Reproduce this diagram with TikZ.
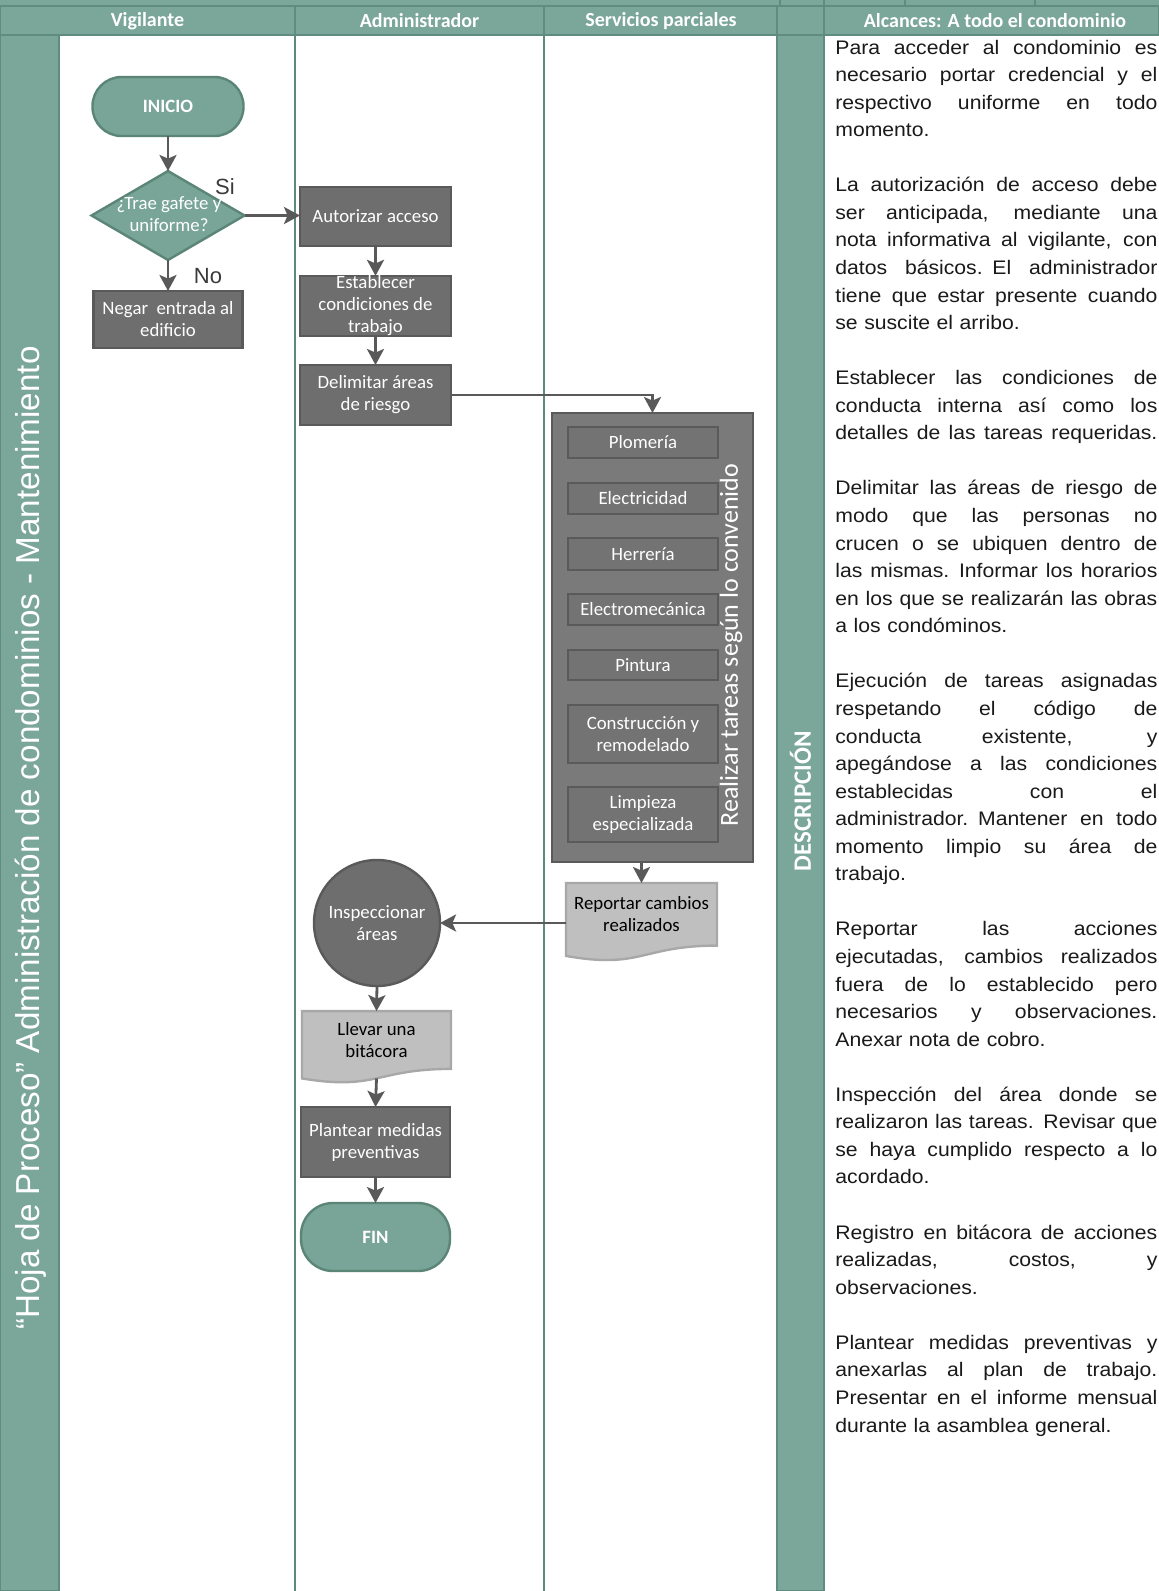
\documentclass[tikz,border=0pt]{standalone}
\usepackage{fontspec}
\setmainfont{Carlito}
\newfontfamily\arialfont{Liberation Sans}
\newfontfamily\descfont[FakeStretch=1.08]{Liberation Sans}
\usetikzlibrary{shapes.geometric,arrows.meta,calc}

\definecolor{band}{HTML}{7BA69A}
\definecolor{bandline}{HTML}{5F8C7F}
\definecolor{sepline}{HTML}{5E8A7D}
\definecolor{tealfill}{HTML}{78A597}
\definecolor{tealline}{HTML}{5A8577}
\definecolor{boxfill}{HTML}{6E6E6E}
\definecolor{boxline}{HTML}{5A5A5A}
\definecolor{contfill}{HTML}{7A7A7A}
\definecolor{subfill}{HTML}{737373}
\definecolor{docfill}{HTML}{BFBFBF}
\definecolor{docline}{HTML}{A8A8A8}
\definecolor{arrowc}{HTML}{595959}
\definecolor{labelc}{HTML}{3A3A3A}
\definecolor{desctext}{HTML}{1A1A1A}

\pgfdeclarelayer{back}
\pgfdeclarelayer{mid}
\pgfsetlayers{back,mid,main}

% width of the description column and one justified line in it
\newlength\descw
\setlength\descw{161pt}
\newcommand\jl[1]{\makebox[\descw][s]{\spaceskip=\fontdimen2\font plus 1fil\relax#1}}

% wavy-bottom document outline behind a node (#1 name, #2 full height in px)
\newcommand\docshape[2]{%
  \begin{pgfonlayer}{mid}
    \path[docbody] (#1.north west) -- (#1.north east) -- (#1.south east)
      .. controls (#1.south) and ($(#1.south)+(0,0.305*#2)$)
      .. ($(#1.south west)+(0,0.132*#2)$) -- cycle;
  \end{pgfonlayer}}

\begin{document}
\begin{tikzpicture}[x=0.5pt,y=-0.5pt,
  boxfont/.style={font=\fontsize{9.4}{11}\selectfont},
  proc/.style={draw=boxline, fill=boxfill, line width=1.2pt, text=white,
    align=center, inner sep=0pt, outer sep=0pt, boxfont},
  term/.style={draw=tealline, fill=tealfill, line width=1.2pt, text=white,
    rounded corners=14.5pt, inner sep=0pt, outer sep=0pt,
    font=\bfseries\fontsize{9.4}{11}\selectfont},
  decision/.style={draw=tealline, fill=tealfill, line width=1.2pt, diamond,
    inner sep=0pt, outer sep=0pt},
  container/.style={draw=boxline, fill=contfill, line width=1.2pt,
    inner sep=0pt, outer sep=0pt},
  subtask/.style={draw=boxline, fill=subfill, line width=1.2pt, text=white,
    align=center, inner sep=0pt, outer sep=0pt, minimum width=75pt, boxfont},
  docnode/.style={draw=none, text=black, align=center, inner sep=0pt,
    outer sep=0pt, boxfont},
  docbody/.style={fill=docfill, draw=docline, line width=1.2pt},
  flow/.style={draw=arrowc, line width=1.4pt,
    -{Stealth[length=8pt,width=8.5pt,inset=1.8pt]}},
  header/.style={text=white, font=\bfseries\fontsize{10}{12}\selectfont},
  yesno/.style={text=labelc, font=\arialfont\fontsize{11}{13}\selectfont}
]
\useasboundingbox (0,0) rectangle (1159,1591);

% ---------- lanes, bands and header row ----------
\begin{pgfonlayer}{back}
  \fill[white] (0,0) rectangle (1159,1591);
  \fill[band] (0,0) rectangle (1159,6);
  \foreach \xx in {780,824,905,1035}
    \draw[bandline, line width=0.8pt] (\xx,0) -- (\xx,6);
  \foreach \xa/\xb in {0/295,295/544,544/777,777/824,824/1159}
    \draw[fill=band, draw=bandline, line width=0.8pt] (\xa,6) rectangle (\xb,35);
  \draw[fill=band, draw=bandline, line width=1.2pt] (0,35) rectangle (59,1591);
  \draw[fill=band, draw=bandline, line width=1.2pt] (777,35) rectangle (824,1591);
  \draw[sepline, line width=1.4pt] (295,35) -- (295,1591);
  \draw[sepline, line width=1.4pt] (544,35) -- (544,1591);
\end{pgfonlayer}

\node[header] (hvig) at (147.5,21) {Vigilante};
\node[header] (hadm) at (419.5,21) {Administrador};
\node[header] (hser) at (661,21) {Servicios parciales};
\node[header] (halc) at (995,21) {Alcances: A todo el condominio};

\node[rotate=90, text=white, font=\arialfont\fontsize{16.6}{20}\selectfont]
  (title) at (31,838)
  {“Hoja de Proceso” Administración de condominios - Mantenimiento};

\node[rotate=90, text=white, font=\bfseries\fontsize{12.5}{15}\selectfont]
  (descr) at (800.5,801) {DESCRIPCIÓN};

% ---------- Vigilante ----------
\node[term, minimum width=75.5pt, minimum height=29.5pt] (inicio) at (168,106.5) {INICIO};
\node[decision, minimum width=76.5pt, minimum height=44.5pt] (dia) at (168,215.5) {};
\node[text=white, align=center, boxfont] (diatext) at (169,214) {¿Trae gafete y\\uniforme?};
\node[proc, minimum width=74.5pt, minimum height=28.5pt] (neg) at (168,319.5)
  {Negar~ entrada al\\edificio};
\node[yesno] (si) at (225,187) {Si};
\node[yesno] (no) at (208,276) {No};

% ---------- Administrador ----------
\node[proc, minimum width=75.5pt, minimum height=29.5pt] (aut) at (375.5,216.5) {Autorizar acceso};
\node[proc, minimum width=75.5pt, minimum height=30pt] (est) at (375.5,306) {Establecer\\condiciones de\\trabajo};
\node[proc, minimum width=75.5pt, minimum height=30pt] (del) at (375.5,395) {Delimitar áreas\\de riesgo};
\node[circle, draw=boxline, fill=boxfill, line width=1.2pt, text=white, align=center,
  inner sep=0pt, outer sep=0pt, minimum size=63pt, boxfont] (insp) at (377,923)
  {Inspeccionar\\áreas};
\node[docnode, minimum width=74.5pt, minimum height=28.9pt] (lle) at (376.5,1040)
  {Llevar una\\bitácora};
\docshape{lle}{72}
\coordinate (llebot) at ($(lle.south)+(0,9.4)$);
\node[proc, minimum width=74.5pt, minimum height=35pt] (plan) at (375.5,1142)
  {Plantear medidas\\preventivas};
\node[term, minimum width=74.5pt, minimum height=34pt, rounded corners=16pt] (fin) at (375.5,1237) {FIN};

% ---------- Servicios parciales ----------
\node[container, minimum width=100.5pt, minimum height=224.5pt] (tareas) at (652.5,637.5) {};
\node[subtask, minimum height=15.5pt] (plom) at (643,442.5) {Plomería};
\node[subtask, minimum height=15.5pt] (elec) at (643,498.5) {Electricidad};
\node[subtask, minimum height=16pt] (herr) at (643,554) {Herrería};
\node[subtask, minimum height=15.5pt] (emec) at (643,609.5) {Electromecánica};
\node[subtask, minimum height=15pt] (pint) at (643,665) {Pintura};
\node[subtask, minimum height=29pt] (cons) at (643,734) {Construcción y\\remodelado};
\node[subtask, minimum height=27.5pt] (limp) at (643,814.5) {Limpieza\\especializada};
\node[rotate=90, text=white, font=\fontsize{13}{15}\selectfont] (realiz) at (731,645)
  {Realizar tareas según lo convenido};
\node[docnode, minimum width=75.5pt, minimum height=31.3pt] (rep) at (641.5,914.3)
  {Reportar cambios\\realizados};
\docshape{rep}{78}

% ---------- connectors ----------
\draw[flow] (inicio.south) -- (dia.north);
\draw[flow] (dia.east) -- (dia.east -| aut.west);
\draw[flow] (dia.south) -- (neg.north);
\draw[flow] (aut.south) -- (est.north);
\draw[flow] (est.south) -- (del.north);
\draw[flow] (del.east) -| (tareas.north);
\draw[flow] (tareas.south -| rep.north) -- (rep.north);
\draw[flow] (rep.west |- insp.east) -- (insp.east);
\draw[flow] (insp.south) -- (lle.north);
\draw[flow] (llebot) -- (plan.north);
\draw[flow] (plan.south) -- (fin.north);

% ---------- description column ----------
\node[anchor=base west, text width=161pt, align=left, inner sep=0pt, text=desctext,
  font=\descfont\fontsize{9.8}{13.78}\selectfont] (desc) at (835,54) {%
\jl{Para acceder al condominio es}\\
\jl{necesario portar credencial y el}\\
\jl{respectivo uniforme en todo}\\
momento.\\[13.78pt]
\jl{La autorización de acceso debe}\\
\jl{ser anticipada, mediante una}\\
\jl{nota informativa al vigilante, con}\\
\jl{datos básicos. El administrador}\\
\jl{tiene que estar presente cuando}\\
se suscite el arribo.\\[13.78pt]
\jl{Establecer las condiciones de}\\
\jl{conducta interna así como los}\\
\jl{detalles de las tareas requeridas.}\\[13.78pt]
\jl{Delimitar las áreas de riesgo de}\\
\jl{modo que las personas no}\\
\jl{crucen o se ubiquen dentro de}\\
\jl{las mismas. Informar los horarios}\\
\jl{en los que se realizarán las obras}\\
a los condóminos.\\[13.78pt]
\jl{Ejecución de tareas asignadas}\\
\jl{respetando el código de}\\
\jl{conducta existente, y}\\
\jl{apegándose a las condiciones}\\
\jl{establecidas con el}\\
\jl{administrador. Mantener en todo}\\
\jl{momento limpio su área de}\\
trabajo.\\[13.78pt]
\jl{Reportar las acciones}\\
\jl{ejecutadas, cambios realizados}\\
\jl{fuera de lo establecido pero}\\
\jl{necesarios y observaciones.}\\
Anexar nota de cobro.\\[13.78pt]
\jl{Inspección del área donde se}\\
\jl{realizaron las tareas. Revisar que}\\
\jl{se haya cumplido respecto a lo}\\
acordado.\\[13.78pt]
\jl{Registro en bitácora de acciones}\\
\jl{realizadas, costos, y}\\
observaciones.\\[13.78pt]
\jl{Plantear medidas preventivas y}\\
\jl{anexarlas al plan de trabajo.}\\
\jl{Presentar en el informe mensual}\\
durante la asamblea general.};
\end{tikzpicture}
\end{document}
